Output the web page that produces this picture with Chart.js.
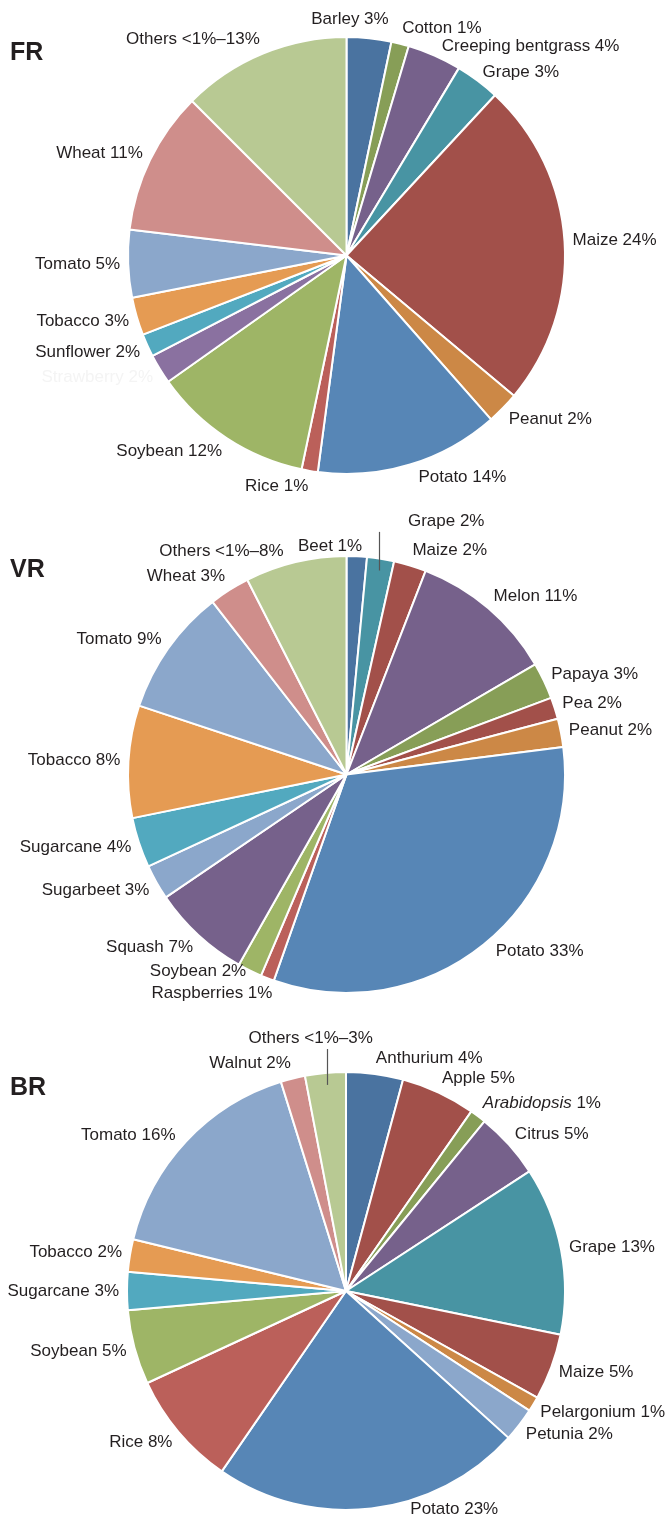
<!DOCTYPE html>
<html>
<head>
<meta charset="utf-8">
<script src="https://cdn.jsdelivr.net/npm/chart.js@4.4.1/dist/chart.umd.min.js"></script>
<style>
  body { margin: 0; background: #fff; }
  #wrap { position: relative; width: 669px; height: 1521px; overflow: hidden; }
  #wrap canvas { position: absolute; left: 0; }
  .tag {
    position: absolute; left: 10px; font: bold 25px "Liberation Sans", Arial, sans-serif;
    color: #231f20; line-height: 30px;
  }
</style>
</head>
<body>
<div id="wrap">
  <canvas id="frChart" width="669" height="505" style="top:0"></canvas>
  <canvas id="vrChart" width="669" height="520" style="top:505px"></canvas>
  <canvas id="brChart" width="669" height="496" style="top:1025px"></canvas>
  <div class="tag" style="top:36px">FR</div>
  <div class="tag" style="top:553px">VR</div>
  <div class="tag" style="top:1071px">BR</div>
</div>
<script>
// FR
const frCrops = ["Barley", "Cotton", "Creeping bentgrass", "Grape", "Maize", "Peanut", "Potato", "Rice",
  "Soybean", "Strawberry", "Sunflower", "Tobacco", "Tomato", "Wheat", "Others"];
const frShare = [3.3, 1.3, 4.0, 3.3, 24.2, 2.4, 13.6, 1.2, 11.9, 2.2, 1.7, 2.8, 5.0, 10.6, 12.5];
const frPct = ["3%", "1%", "4%", "3%", "24%", "2%", "14%", "1%", "12%", "2%", "2%", "3%", "5%", "11%", "<1%–13%"];

// VR
const vrCrops = ["Beet", "Grape", "Maize", "Melon", "Papaya", "Pea", "Peanut", "Potato", "Raspberries",
  "Soybean", "Squash", "Sugarbeet", "Sugarcane", "Tobacco", "Tomato", "Wheat", "Others"];
const vrShare = [1.5, 2.0, 2.4, 10.7, 2.7, 1.6, 2.1, 32.4, 1.0, 1.8, 7.3, 2.6, 3.7, 8.3, 9.4, 3.0, 7.5];
const vrPct = ["1%", "2%", "2%", "11%", "3%", "2%", "2%", "33%", "1%", "2%", "7%", "3%", "4%", "8%", "9%", "3%", "<1%–8%"];

// BR
const brCrops = ["Anthurium", "Apple", "Arabidopsis", "Citrus", "Grape", "Maize", "Pelargonium", "Petunia",
  "Potato", "Rice", "Soybean", "Sugarcane", "Tobacco", "Tomato", "Walnut", "Others"];
const brShare = [4.2, 5.5, 1.2, 4.9, 12.4, 4.9, 1.1, 2.5, 22.9, 8.5, 5.5, 2.8, 2.4, 16.4, 1.8, 3.0];
const brPct = ["4%", "5%", "1%", "5%", "13%", "5%", "1%", "2%", "23%", "8%", "5%", "3%", "2%", "16%", "2%", "<1%–3%"];

const C = {
  steel: "#4a73a0", olive: "#879e57", purple: "#76618b", teal: "#4894a3", brick: "#a2504a",
  ochre: "#cc8846", blue: "#5786b6", rust: "#bb605a", leaf: "#9eb566", lilac: "#8a71a0",
  cyan: "#52a9bf", orange: "#e59b53", sky: "#8ba7cb", rose: "#cf8e8b", sage: "#b8c993"
};
const frColors = [C.steel, C.olive, C.purple, C.teal, C.brick, C.ochre, C.blue, C.rust, C.leaf,
  C.lilac, C.cyan, C.orange, C.sky, C.rose, C.sage];
const vrColors = [C.steel, C.teal, C.brick, C.purple, C.olive, C.brick, C.ochre, C.blue, C.rust,
  C.leaf, C.purple, C.sky, C.cyan, C.orange, C.sky, C.rose, C.sage];
const brColors = [C.steel, C.brick, C.olive, C.purple, C.teal, C.brick, C.ochre, C.sky, C.blue,
  C.rust, C.leaf, C.cyan, C.orange, C.sky, C.rose, C.sage];

const FONT = '"Liberation Sans", Arial, sans-serif';

// label placement tweaks, by slice index
const frTweaks = { 0: { dx: -20, dy: -3 }, 2: { dx: 4, dy: 5 }, 3: { dy: 4 }, 6: { dx: 6, dy: -3 }, 9: { color: "#f4f4f4" } };
const vrTweaks = {
  0: { align: "right", dx: 5, dy: 6 },
  1: { dx: 26, dy: -22, leader: true },
  7: { dx: 7, dy: -6 },
  8: { dx: 8 },
  9: { dy: -13 },
  16: { dx: -10, dy: 5 }
};
const brTweaks = {
  2: { italic: "Arabidopsis" },
  8: { align: "left", dx: 38, dy: -15 },
  13: { dx: -5, dy: 5 },
  15: { dx: -14, dy: -19, leader: true }
};

const sliceLabels = {
  id: "sliceLabels",
  afterDatasetsDraw(chart, args, opts) {
    const ctx = chart.ctx;
    const meta = chart.getDatasetMeta(0);
    const crops = chart.data.labels;
    ctx.save();
    ctx.font = "17px " + FONT;
    ctx.textBaseline = "middle";
    meta.data.forEach((arc, i) => {
      const p = arc.getProps(["x", "y", "startAngle", "endAngle", "outerRadius"], true);
      const mid = (p.startAngle + p.endAngle) / 2;
      const sx = Math.cos(mid), sy = Math.sin(mid);
      const t = opts.tweaks[i] || {};
      const ax = p.x + sx * (p.outerRadius + 8);
      const ay = p.y + sy * (p.outerRadius + 16);
      const x = ax + (t.dx || 0), y = ay + (t.dy || 0);
      const align = t.align || (sx > 0.12 ? "left" : sx < -0.12 ? "right" : "center");
      ctx.fillStyle = t.color || "#231f20";
      if (t.italic) {
        const rest = crops[i].slice(t.italic.length) + " " + opts.pct[i];
        ctx.font = "italic 17px " + FONT;
        const w1 = ctx.measureText(t.italic).width;
        ctx.font = "17px " + FONT;
        const w2 = ctx.measureText(rest).width;
        let x0 = align === "left" ? x : align === "right" ? x - w1 - w2 : x - (w1 + w2) / 2;
        ctx.textAlign = "left";
        ctx.font = "italic 17px " + FONT;
        ctx.fillText(t.italic, x0, y);
        ctx.font = "17px " + FONT;
        ctx.fillText(rest, x0 + w1, y);
      } else {
        ctx.textAlign = align;
        ctx.fillText(crops[i] + " " + opts.pct[i], x, y);
      }
      if (t.leader) {
        const lx = p.x + sx * (p.outerRadius - 12);
        const ly = p.y + sy * (p.outerRadius - 12);
        ctx.strokeStyle = "#555";
        ctx.lineWidth = 1.2;
        ctx.beginPath();
        ctx.moveTo(Math.round(lx) + 0.5, y + 11);
        ctx.lineTo(Math.round(lx) + 0.5, ly);
        ctx.stroke();
      }
    });
    ctx.restore();
  }
};

function drawPie(id, crops, share, pct, colors, tweaks, pad) {
  return new Chart(document.getElementById(id), {
    type: "pie",
    data: {
      labels: crops,
      datasets: [{ data: share, backgroundColor: colors, borderColor: "#fff", borderWidth: 2 }]
    },
    options: {
      responsive: false,
      animation: false,
      layout: { padding: pad },
      plugins: {
        legend: { display: false },
        tooltip: { enabled: false },
        sliceLabels: { pct: pct, tweaks: tweaks }
      }
    },
    plugins: [sliceLabels]
  });
}

drawPie("frChart", frCrops, frShare, frPct, frColors, frTweaks, { left: 127, right: 103, top: 36, bottom: 30 });
drawPie("vrChart", vrCrops, vrShare, vrPct, vrColors, vrTweaks, { left: 127, right: 103, top: 50, bottom: 31 });
drawPie("brChart", brCrops, brShare, brPct, brColors, brTweaks, { left: 126, right: 103, top: 46, bottom: 10 });
</script>
</body>
</html>
